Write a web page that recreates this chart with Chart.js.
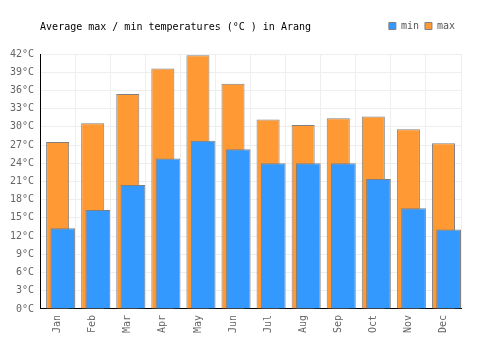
<!DOCTYPE html>
<html>
<head>
<meta charset="utf-8">
<script src="https://cdn.jsdelivr.net/npm/chart.js@4/dist/chart.umd.min.js"></script>
<style>
  html, body { margin: 0; padding: 0; background: #fff; }
  #wrap { width: 500px; height: 350px; }
</style>
</head>
<body>
<div id="wrap"><canvas id="chart"></canvas></div>
<script>
const months = ['Jan', 'Feb', 'Mar', 'Apr', 'May', 'Jun', 'Jul', 'Aug', 'Sep', 'Oct', 'Nov', 'Dec'];
const minTemps = [13.3, 16.3, 20.4, 24.8, 27.7, 26.3, 24.0, 24.0, 24.0, 21.4, 16.6, 13.1];
const maxTemps = [27.5, 30.6, 35.4, 39.6, 41.8, 37.1, 31.2, 30.3, 31.4, 31.7, 29.6, 27.3];
const yMax = 42;
const yStep = 3;

Chart.defaults.font.family = "'DejaVu Sans Mono', monospace";
Chart.defaults.font.size = 10;
Chart.defaults.color = '#666';

// min bars sit a bit to the right of the max bars, so they get their own hidden axis
const minShift = 0.147;

new Chart(document.getElementById('chart'), {
  type: 'bar',
  data: {
    labels: months,
    datasets: [
      {
        label: 'min',
        data: minTemps.map((v, i) => ({ x: i, y: v })),
        xAxisID: 'x2',
        backgroundColor: '#3399ff',
        borderColor: '#808080',
        borderWidth: 1,
        grouped: false,
        barPercentage: 0.705,
        categoryPercentage: 1
      },
      {
        label: 'max',
        data: maxTemps,
        xAxisID: 'x',
        backgroundColor: '#ff9933',
        borderColor: '#808080',
        borderWidth: 1,
        grouped: false,
        barPercentage: 0.657,
        categoryPercentage: 1
      }
    ]
  },
  options: {
    responsive: true,
    maintainAspectRatio: false,
    animation: false,
    layout: { padding: { left: 4, right: 39, top: 15, bottom: 11 } },
    plugins: {
      legend: {
        position: 'top',
        align: 'end',
        fullSize: false,
        weight: 3000,
        labels: {
          boxWidth: 7,
          boxHeight: 7,
          padding: 6,
          color: '#555',
          font: { size: 10 }
        }
      },
      title: {
        display: true,
        text: 'Average max / min temperatures (°C ) in Arang',
        align: 'start',
        fullSize: false,
        color: '#000',
        font: { size: 10, weight: 'normal' },
        padding: { top: -20, bottom: 21 }
      },
      tooltip: { enabled: false }
    },
    scales: {
      x: {
        type: 'category',
        offset: true,
        grid: { color: '#eee', drawTicks: false, offset: true },
        border: { color: '#000', width: 1 },
        ticks: { minRotation: 90, maxRotation: 90, padding: 6, color: '#666' }
      },
      x2: {
        type: 'linear',
        display: false,
        offset: false,
        min: -0.5 - minShift,
        max: months.length - 0.5 - minShift
      },
      y: {
        min: 0,
        max: yMax,
        grid: { color: '#eee', drawTicks: false },
        border: { color: '#000', width: 1 },
        ticks: {
          stepSize: yStep,
          padding: 6,
          color: '#666',
          callback: v => v + '°C'
        }
      }
    }
  }
});
</script>
</body>
</html>
